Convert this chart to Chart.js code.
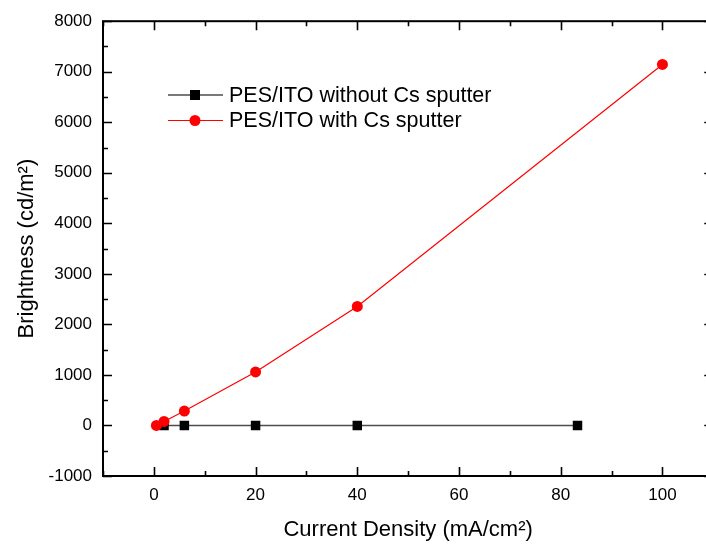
<!DOCTYPE html>
<html>
<head>
<meta charset="utf-8">
<script src="https://cdn.jsdelivr.net/npm/chart.js@4/dist/chart.umd.min.js"></script>
<style>
  html, body { margin: 0; padding: 0; overflow: hidden; background: #fff; }
  #wrap { width: 720px; height: 545px; }
</style>
</head>
<body>
<div id="wrap"><canvas id="chart" width="720" height="545"></canvas></div>
<script>
/* ── Data ─────────────────────────────────────────────────────── */

const densityNoCs = [2, 6, 20, 40, 83.3];
const brightNoCs  = [0, 0, 0, 0, 0];

const densityCs   = [0.5, 2, 6, 20, 40, 100];
const brightCs    = [0, 80, 285, 1060, 2355, 7145];

const seriesNames = ['PES/ITO without Cs sputter', 'PES/ITO with Cs sputter'];

const xTickLabels = [0, 20, 40, 60, 80, 100];
const yTickLabels = [-1000, 0, 1000, 2000, 3000, 4000, 5000, 6000, 7000, 8000];

const FONT = '"Liberation Sans", Arial, sans-serif';
const BLACK_LINE = '#4d4d4d';
const RED = '#ff0000';

/* ── Origin-style frame with inward ticks ─────────────────────── */
const framePlugin = {
  id: 'frame',
  beforeDatasetsDraw(chart) {
    const { ctx, chartArea: a, scales: { x, y } } = chart;
    ctx.save();
    ctx.strokeStyle = '#000';
    ctx.lineWidth = 2;
    ctx.strokeRect(a.left, a.top, a.right - a.left, a.bottom - a.top);

    ctx.lineWidth = 1.6;
    ctx.beginPath();
    for (let v = x.min; v <= x.max; v += 10) {
      const px = Math.round(x.getPixelForValue(v)) + 0.5;
      const len = xTickLabels.includes(v) ? 9 : 5;
      ctx.moveTo(px, a.bottom); ctx.lineTo(px, a.bottom - len);
      ctx.moveTo(px, a.top);    ctx.lineTo(px, a.top + len);
    }
    for (let v = y.min; v <= y.max; v += 500) {
      const py = Math.round(y.getPixelForValue(v)) + 0.5;
      const len = yTickLabels.includes(v) ? 9 : 5;
      ctx.moveTo(a.left, py);  ctx.lineTo(a.left + len, py);
      ctx.moveTo(a.right, py); ctx.lineTo(a.right - len, py);
    }
    ctx.stroke();
    ctx.restore();
  },
  afterDraw(chart) {
    // legend: line with marker, then label
    const { ctx } = chart;
    ctx.save();
    ctx.font = `21.5px ${FONT}`;
    ctx.textBaseline = 'middle';

    let ly = 95;
    ctx.strokeStyle = BLACK_LINE;
    ctx.lineWidth = 1.5;
    ctx.beginPath(); ctx.moveTo(168, ly); ctx.lineTo(223, ly); ctx.stroke();
    ctx.fillStyle = '#000';
    ctx.fillRect(195 - 5, ly - 5, 10, 10);
    ctx.fillText(seriesNames[0], 229, ly + 1);

    ly = 120.5;
    ctx.strokeStyle = RED;
    ctx.lineWidth = 1.2;
    ctx.beginPath(); ctx.moveTo(168, ly); ctx.lineTo(223, ly); ctx.stroke();
    ctx.fillStyle = RED;
    ctx.beginPath(); ctx.arc(195, ly, 5.5, 0, Math.PI * 2); ctx.fill();
    ctx.fillStyle = '#000';
    ctx.fillText(seriesNames[1], 229, ly + 1);
    ctx.restore();
  }
};

const toPoints = (xs, ys) => xs.map((v, i) => ({ x: v, y: ys[i] }));

new Chart(document.getElementById('chart'), {
  type: 'scatter',
  data: {
    datasets: [
      {
        label: seriesNames[0],
        data: toPoints(densityNoCs, brightNoCs),
        showLine: true,
        borderColor: BLACK_LINE,
        borderWidth: 1.5,
        pointStyle: 'rect',
        pointRadius: 6.7,
        pointBorderWidth: 0,
        pointBackgroundColor: '#000',
        order: 1,
      },
      {
        label: seriesNames[1],
        data: toPoints(densityCs, brightCs),
        showLine: true,
        borderColor: RED,
        borderWidth: 1.2,
        pointStyle: 'circle',
        pointRadius: 5.5,
        pointBorderWidth: 0,
        pointBackgroundColor: RED,
        order: 0,
      },
    ],
  },
  options: {
    responsive: false,
    animation: false,
    devicePixelRatio: 1,
    layout: { padding: { top: 20, right: 6, left: 0, bottom: 0 } },
    plugins: {
      legend: { display: false },
      tooltip: { enabled: false },
    },
    scales: {
      x: {
        type: 'linear',
        min: -10,
        max: 110,
        afterBuildTicks: s => { s.ticks = xTickLabels.map(v => ({ value: v })); },
        afterFit: s => { s.height = 69; },
        grid: { display: false, drawTicks: false },
        border: { display: false },
        ticks: {
          color: '#000', padding: 9, maxRotation: 0,
          font: { family: FONT, size: 17 },
          callback: v => String(v),
        },
        title: {
          display: true,
          text: 'Current Density (mA/cm²)',
          color: '#000',
          padding: { top: 0, bottom: 2 },
          font: { family: FONT, size: 22 },
        },
      },
      y: {
        type: 'linear',
        min: -1000,
        max: 8000,
        afterBuildTicks: s => { s.ticks = yTickLabels.map(v => ({ value: v })); },
        afterFit: s => { s.width = 103; },
        grid: { display: false, drawTicks: false },
        border: { display: false },
        ticks: {
          color: '#000', padding: 11,
          font: { family: FONT, size: 17 },
          callback: v => String(v),
        },
        title: {
          display: true,
          text: 'Brightness (cd/m²)',
          color: '#000',
          padding: { top: 14, bottom: 0 },
          font: { family: FONT, size: 22 },
        },
      },
    },
  },
  plugins: [framePlugin],
});
</script>
</body>
</html>
